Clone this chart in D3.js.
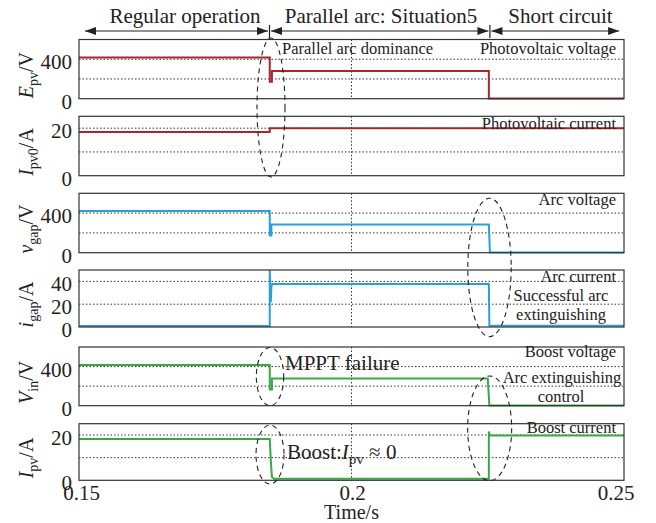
<!DOCTYPE html>
<html><head><meta charset="utf-8">
<script src="https://cdn.jsdelivr.net/npm/d3@7"></script>
<style>
body{margin:0;background:#fff}
svg{display:block}
</style>
</head><body><svg id="c" width="656" height="523" font-family="'Liberation Serif', 'Times New Roman', Times, 'DejaVu Serif', serif"></svg>
<script>
// ---------- data ----------
const timeDomain = [0.15, 0.25];
const xTicks = [0.15, 0.2, 0.25];
const xTickLabels = ["0.15", "0.2", "0.25"];
const xTitle = "Time/s";

const phaseNames = ["Regular operation", "Parallel arc: Situation5", "Short circuit"];
const phaseBounds = [0.1511, 0.18495, 0.2254, 0.2491];

// Photovoltaic voltage E_pv (V)
const epvT = [0.15, 0.185, 0.185, 0.1854, 0.1854, 0.2252, 0.2252, 0.25];
const epvV = [418, 418, 172, 172, 280, 280, 2, 2];
// Photovoltaic current I_pv0 (A)
const ipv0T = [0.15, 0.185, 0.185, 0.25];
const ipv0V = [18.4, 18.4, 20, 20];
// Arc voltage v_gap (V)
const vgapT = [0.15, 0.185, 0.185, 0.1853, 0.1853, 0.2252, 0.2254, 0.25];
const vgapV = [420, 420, 175, 175, 284, 284, 1, 1];
// Arc current i_gap (A)
const igapT = [0.15, 0.185, 0.185, 0.1852, 0.1853, 0.1855, 0.2252, 0.2253, 0.25];
const igapV = [0.8, 0.8, 50, 22, 36, 37.8, 37.8, 1, 1];
// Boost voltage V_in (V)
const vinT = [0.15, 0.185, 0.185, 0.1854, 0.1854, 0.2250, 0.2253, 0.25];
const vinV = [416, 416, 165, 165, 278, 278, 1, 1];
// Boost current I_pv (A)
const ipvT = [0.15, 0.185, 0.1852, 0.1854, 0.1858, 0.2252, 0.2252, 0.2254, 0.25];
const ipvV = [18.2, 18.2, 8.5, 1.5, 0.7, 0.7, 21.5, 19.8, 19.8];

const voltTickLabels = [0, 400], voltGrid = [200, 400];
const curTickLabels = [0, 20], curGrid = [10, 20];
const arcCurTickLabels = [0, 20, 40], arcCurGrid = [20, 40];

const colRed = "#a8262c", colBlue = "#2b9fdc", colGreen = "#39a845";

const panels = [
  {sym:"E", sub:"pv", unit:"/V", domain:[0,600], ticks:voltTickLabels, grid:voltGrid, t:epvT, v:epvV, color:colRed},
  {sym:"I", sub:"pv0", unit:"/A", domain:[0,25], ticks:curTickLabels, grid:curGrid, t:ipv0T, v:ipv0V, color:colRed},
  {sym:"v", sub:"gap", unit:"/V", domain:[0,600], ticks:voltTickLabels, grid:voltGrid, t:vgapT, v:vgapV, color:colBlue},
  {sym:"i", sub:"gap", unit:"/A", domain:[0,50], ticks:arcCurTickLabels, grid:arcCurGrid, t:igapT, v:igapV, color:colBlue},
  {sym:"V", sub:"in", unit:"/V", domain:[0,600], ticks:voltTickLabels, grid:voltGrid, t:vinT, v:vinV, color:colGreen},
  {sym:"I", sub:"pv", unit:"/A", domain:[0,25], ticks:curTickLabels, grid:curGrid, t:ipvT, v:ipvV, color:colGreen}
];

// ---------- layout ----------
const FONT = "'Liberation Serif', 'Times New Roman', Times, 'DejaVu Serif', serif";
const svg = d3.select("#c");
svg.append("rect").attr("width",656).attr("height",523).attr("fill","#fff");
const x = d3.scaleLinear().domain(timeDomain).range([79, 624]);
const panelTops = [39.5, 116.3, 193.3, 270, 347, 423.7];
const panelBottoms = [98.7, 175.7, 252.7, 327, 405.7, 480.3];

function txt(sel) { return sel.append("text").attr("font-family", FONT).attr("fill", "#222"); }

panels.forEach((p, i) => {
  const y = d3.scaleLinear().domain(p.domain).range([panelBottoms[i], panelTops[i]]);
  const g = svg.append("g");
  g.selectAll(".hg").data(p.grid).enter().append("line")
    .attr("x1", x.range()[0]).attr("x2", x.range()[1])
    .attr("y1", d => y(d)).attr("y2", d => y(d))
    .attr("stroke", "#333").attr("stroke-width", 1).attr("stroke-dasharray", "1.5,2");
  g.append("line").attr("x1", x(0.2)).attr("x2", x(0.2))
    .attr("y1", panelTops[i]).attr("y2", panelBottoms[i])
    .attr("stroke", "#333").attr("stroke-width", 1).attr("stroke-dasharray", "1.5,2");
  const pts = p.t.map((t, k) => [t, p.v[k]]);
  g.append("path").datum(pts)
    .attr("d", d3.line().x(d => x(d[0])).y(d => y(d[1])))
    .attr("fill", "none").attr("stroke", p.color).attr("stroke-width", 2);
  g.append("rect").attr("x", x.range()[0]).attr("y", panelTops[i])
    .attr("width", x.range()[1] - x.range()[0]).attr("height", panelBottoms[i] - panelTops[i])
    .attr("fill", "none").attr("stroke", "#333").attr("stroke-width", 1.2);
  p.ticks.forEach(d => {
    txt(g).attr("x", 72).attr("y", y(d) + 10)
      .attr("text-anchor", "end").attr("font-size", 21).text(d);
  });
  const cy = (panelTops[i] + panelBottoms[i]) / 2 + 6;
  const lab = txt(g).attr("transform", `translate(33,${cy}) rotate(-90)`)
    .attr("text-anchor", "middle").attr("font-size", 20);
  lab.append("tspan").attr("font-style", "italic").text(p.sym);
  lab.append("tspan").attr("font-size", 14).attr("dy", 5).text(p.sub);
  lab.append("tspan").attr("dy", -5).text(p.unit);
});

// x ticks
xTicks.forEach((d, i) => {
  txt(svg).attr("x", x(d) + (i === 0 ? 2.5 : i === 2 ? -8 : 1))
    .attr("y", 500).attr("text-anchor", "middle").attr("font-size", 21)
    .text(xTickLabels[i]);
});
txt(svg).attr("x", x(0.2)).attr("y", 519).attr("text-anchor", "middle")
  .attr("font-size", 20).text(xTitle);

// phase header with arrows
const ay = 31;
function arrowHead(px, dir) {
  svg.append("path")
    .attr("d", `M${px},${ay} L${px - dir * 11},${ay - 4} L${px - dir * 11},${ay + 4} Z`)
    .attr("fill", "#222");
}
const phaseCenters = [185, 381, 560.5];
phaseNames.forEach((name, i) => {
  const a = x(phaseBounds[i]) + (i === 0 ? 0 : 1.5);
  const b = x(phaseBounds[i + 1]) - (i === 2 ? 0 : 1.5);
  svg.append("line").attr("x1", a).attr("x2", b).attr("y1", ay).attr("y2", ay)
    .attr("stroke", "#222").attr("stroke-width", 1.2);
  arrowHead(a, -1); arrowHead(b, 1);
  txt(svg).attr("x", phaseCenters[i]).attr("y", 22.5)
    .attr("text-anchor", "middle").attr("font-size", 21).text(name);
});
[phaseBounds[1], phaseBounds[2]].forEach(t => {
  svg.append("line").attr("x1", x(t)).attr("x2", x(t)).attr("y1", 25).attr("y2", 38)
    .attr("stroke", "#222").attr("stroke-width", 1.2);
});

// dashed ellipses
const ellipses = [
  {t:0.18523, y1:38, y2:177, rx:14},
  {t:0.22532, y1:198.3, y2:336.7, rx:21.7},
  {t:0.18505, y1:347.5, y2:405.7, rx:13.7},
  {t:0.22535, y1:376, y2:480.7, rx:22},
  {t:0.18505, y1:425, y2:484, rx:14}
];
svg.selectAll(".el").data(ellipses).enter().append("ellipse")
  .attr("cx", d => x(d.t)).attr("cy", d => (d.y1 + d.y2) / 2)
  .attr("rx", d => d.rx).attr("ry", d => (d.y2 - d.y1) / 2)
  .attr("fill", "none").attr("stroke", "#222").attr("stroke-width", 1.1)
  .attr("stroke-dasharray", "5,4");

// annotations
const notes = [
  {text:"Parallel arc dominance", x:282, y:54, a:"start", s:16.5},
  {text:"Photovoltaic voltage", x:616, y:54, a:"end", s:16.5},
  {text:"Photovoltaic current", x:616, y:129, a:"end", s:16.5},
  {text:"Arc voltage", x:616, y:205, a:"end", s:16.5},
  {text:"Arc current", x:616, y:281.5, a:"end", s:16.5},
  {text:"Successful arc", x:561, y:300.5, a:"middle", s:16.5},
  {text:"extinguishing", x:561, y:320, a:"middle", s:16.5},
  {text:"Boost voltage", x:616, y:357, a:"end", s:16.5},
  {text:"Arc extinguishing", x:562, y:383, a:"middle", s:16.5},
  {text:"control", x:561, y:401.5, a:"middle", s:16.5},
  {text:"Boost current", x:616, y:432.5, a:"end", s:16.5},
  {text:"MPPT failure", x:285, y:369.5, a:"start", s:21}
];
notes.forEach(d => {
  txt(svg).attr("x", d.x).attr("y", d.y).attr("text-anchor", d.a)
    .attr("font-size", d.s).text(d.text);
});
const bt = txt(svg).attr("x", 287).attr("y", 458.5).attr("font-size", 21);
bt.append("tspan").text("Boost:");
bt.append("tspan").attr("font-style", "italic").text("I");
bt.append("tspan").attr("font-size", 15).attr("dy", 5).text("pv");
bt.append("tspan").attr("dy", -5).text(" \u2248 0");
</script>
</body></html>
